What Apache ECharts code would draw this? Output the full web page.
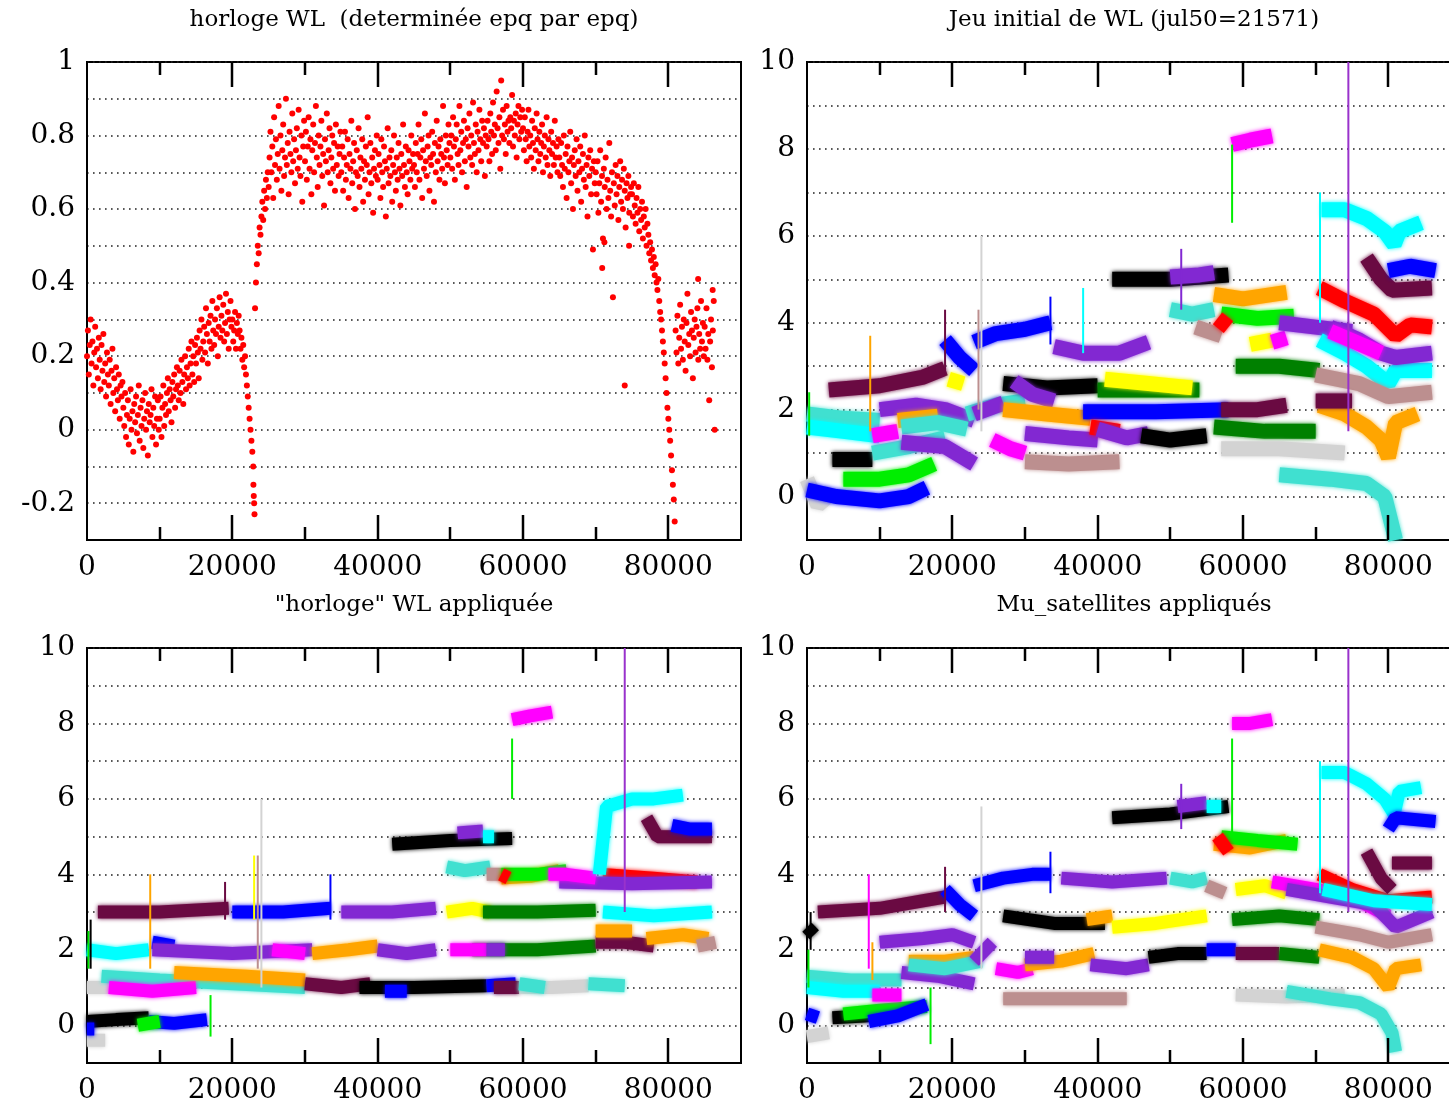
<!DOCTYPE html>
<html><head><meta charset="utf-8">
<script src="https://cdn.jsdelivr.net/npm/echarts/dist/echarts.min.js"></script>
<style>html,body{margin:0;padding:0;background:#fff}#c{width:1449px;height:1106px}</style>
</head><body><div id="c"></div>
<script>
// ---------- titles ----------
const titles = ['horloge WL  (determinée epq par epq)', 'Jeu initial de WL (jul50=21571)', '"horloge" WL appliquée', 'Mu_satellites appliqués'];

// ---------- panel 1 : WL clock, one value every clockStep seconds ----------
const clockStep = 125;
const clockY = [
 0.20,0.27,0.15,0.23,0.30,0.18,0.24,0.12,0.21,0.28,0.17,0.22,0.14,0.25,0.19,0.11,0.23,0.16,0.26,0.13,
 0.18,0.09,0.21,0.15,0.12,0.19,0.07,0.16,0.22,0.10,0.14,0.05,0.17,0.11,0.08,0.15,0.03,0.12,0.09,0.13,
 0.06,0.01,0.10,-0.02,0.04,0.08,-0.04,0.03,0.11,0.00,0.05,-0.06,0.07,0.02,0.09,-0.01,0.04,0.12,-0.03,0.06,
 0.01,0.08,-0.05,0.03,0.10,0.00,0.05,-0.07,0.07,0.02,0.04,0.11,-0.02,0.06,0.01,0.09,-0.04,0.03,0.08,0.00,
 0.03,0.09,-0.02,0.06,0.12,0.01,0.07,0.04,0.10,0.14,0.05,0.11,0.08,0.02,0.13,0.09,0.15,0.06,0.11,0.17,
 0.12,0.08,0.16,0.10,0.19,0.13,0.07,0.15,0.20,0.11,0.17,0.14,0.22,0.12,0.18,0.24,0.15,0.20,0.13,0.23,
 0.18,0.25,0.21,0.14,0.27,0.22,0.30,0.19,0.24,0.28,0.21,0.33,0.26,0.18,0.29,0.24,0.31,0.22,0.35,0.27,
 0.23,0.30,0.26,0.33,0.20,0.28,0.36,0.25,0.31,0.27,0.34,0.24,0.29,0.37,0.26,0.32,0.22,0.30,0.35,0.28,
 0.30,0.24,0.27,0.32,0.22,0.29,0.26,0.31,0.27,0.22,0.25,0.19,0.23,0.17,0.20,0.15,0.12,0.09,0.06,0.03,
 0.00,-0.03,-0.06,-0.10,-0.20,0.33,0.40,0.45,0.50,0.48,0.55,0.53,0.58,0.62,0.57,0.65,0.60,0.68,0.63,0.70,
 0.66,0.74,0.81,0.70,0.77,0.63,0.85,0.72,0.79,0.68,0.75,0.88,0.71,0.80,0.65,0.76,0.83,0.69,0.74,0.90,
 0.72,0.78,0.64,0.81,0.75,0.70,0.86,0.73,0.79,0.67,0.76,0.82,0.71,0.87,0.74,0.69,0.80,0.62,0.77,0.84,
 0.73,0.81,0.68,0.77,0.85,0.71,0.79,0.64,0.76,0.83,0.70,0.78,0.88,0.74,0.66,0.80,0.72,0.77,0.84,0.69,
 0.75,0.61,0.79,0.73,0.86,0.70,0.76,0.82,0.67,0.74,0.80,0.71,0.78,0.65,0.83,0.72,0.77,0.69,0.75,0.81,
 0.70,0.77,0.65,0.74,0.81,0.68,0.72,0.79,0.63,0.75,0.71,0.84,0.67,0.73,0.78,0.60,0.70,0.76,0.69,0.82,
 0.66,0.74,0.71,0.79,0.62,0.73,0.68,0.77,0.72,0.85,0.64,0.70,0.78,0.67,0.74,0.59,0.71,0.76,0.69,0.80,
 0.68,0.75,0.72,0.63,0.79,0.70,0.66,0.77,0.73,0.58,0.71,0.82,0.67,0.74,0.69,0.76,0.62,0.72,0.80,0.70,
 0.65,0.74,0.68,0.78,0.71,0.61,0.75,0.69,0.83,0.72,0.66,0.77,0.70,0.64,0.76,0.73,0.68,0.80,0.71,0.75,
 0.72,0.66,0.78,0.70,0.75,0.83,0.68,0.74,0.79,0.63,0.76,0.71,0.86,0.73,0.69,0.77,0.80,0.65,0.74,0.72,
 0.81,0.75,0.62,0.78,0.70,0.84,0.73,0.77,0.68,0.79,0.75,0.71,0.88,0.74,0.67,0.80,0.76,0.72,0.83,0.78,
 0.74,0.80,0.71,0.85,0.77,0.68,0.79,0.83,0.75,0.72,0.88,0.76,0.81,0.70,0.78,0.84,0.73,0.79,0.66,0.82,
 0.77,0.86,0.74,0.80,0.72,0.89,0.78,0.75,0.83,0.70,0.81,0.76,0.87,0.79,0.73,0.84,0.78,0.82,0.69,0.80,
 0.77,0.84,0.79,0.73,0.86,0.81,0.75,0.89,0.80,0.83,0.76,0.92,0.82,0.78,0.85,0.71,0.95,0.80,0.87,0.79,
 0.83,0.75,0.88,0.81,0.84,0.78,0.85,0.82,0.91,0.77,0.84,0.80,0.86,0.74,0.83,0.88,0.79,0.85,0.81,0.87,
 0.82,0.76,0.85,0.79,0.73,0.81,0.87,0.77,0.80,0.74,0.84,0.78,0.71,0.82,0.76,0.86,0.79,0.73,0.81,0.75,
 0.78,0.83,0.70,0.77,0.80,0.74,0.85,0.72,0.79,0.76,0.69,0.81,0.75,0.78,0.72,0.84,0.74,0.77,0.70,0.79,
 0.74,0.69,0.78,0.72,0.66,0.80,0.71,0.75,0.63,0.77,0.70,0.73,0.81,0.67,0.74,0.60,0.72,0.76,0.69,0.79,
 0.65,0.73,0.70,0.77,0.62,0.71,0.75,0.68,0.80,0.66,0.72,0.58,0.74,0.69,0.76,0.64,0.71,0.49,0.73,0.67,
 0.70,0.64,0.73,0.59,0.67,0.76,0.62,0.69,0.52,0.71,0.66,0.74,0.60,0.68,0.63,0.78,0.65,0.58,0.70,0.36,
 0.67,0.61,0.72,0.64,0.69,0.57,0.66,0.73,0.62,0.68,0.60,0.71,0.65,0.55,0.67,0.63,0.69,0.59,0.64,0.66,
 0.64,0.58,0.67,0.61,0.56,0.63,0.59,0.66,0.54,0.60,0.57,0.62,0.52,0.58,0.55,0.60,0.50,0.56,0.53,0.48,
 0.51,0.46,0.49,0.44,0.47,0.42,0.45,0.40,0.38,0.41,0.35,0.32,0.30,0.27,0.24,0.21,0.18,0.14,0.10,0.06,
 0.03,0.00,-0.03,-0.07,-0.11,-0.15,-0.19,-0.25,0.27,0.21,0.31,0.18,0.25,0.34,0.22,0.28,0.19,0.30,0.24,0.16,
 0.29,0.37,0.23,0.26,0.20,0.32,0.27,0.14,0.25,0.30,0.21,0.28,0.33,0.19,0.26,0.22,0.35,0.24,0.29,0.20,
 0.28,0.22,0.33,0.19,0.26,0.08,0.24,0.30,0.17,0.27,0.35,0.00
];
const clockOutliers = [[22900,-0.15],[22950,-0.18],[23050,-0.23],[70900,0.44],[71200,0.51],[74000,0.12],[74600,0.50],[84100,0.41],[86100,0.38]];

// ---------- satellites (index into satColors) ----------
// bands: [satellite, [[epoch, WL], ...]]   spikes: [satellite, epoch, WLlow, WLhigh]
const trBands = [
 [13,[[0,0.4],[1500,-0.2],[3500,0.1]]],
 [2,[[0,0.15],[4000,0.0],[10000,-0.1],[14000,0.0],[16500,0.2]]],
 [1,[[5000,0.4],[10000,0.4],[14000,0.5],[17500,0.75]]],
 [6,[[3500,0.85],[9000,0.85]]],
 [9,[[0,1.9],[5000,1.8],[10000,1.75]]],
 [4,[[0,1.6],[5000,1.5],[10000,1.4]]],
 [9,[[9000,1.0],[14000,1.15],[19000,1.35]]],
 [3,[[9000,1.4],[12500,1.5]]],
 [5,[[3000,2.45],[10000,2.55],[16000,2.75],[19000,2.95]]],
 [8,[[10000,2.0],[15000,2.1],[19000,2.0],[23000,1.75]]],
 [7,[[12500,1.75],[18000,1.85]]],
 [9,[[13000,1.6],[18000,1.7],[22000,1.55]]],
 [8,[[13000,1.25],[19000,1.15],[23000,0.75]]],
 [2,[[19000,3.6],[21000,3.2],[23000,2.9]]],
 [11,[[19500,2.7],[21500,2.6]]],
 [2,[[23000,3.55],[26000,3.75],[30000,3.85],[33500,4.0]]],
 [9,[[22000,1.9],[26000,2.1],[30000,2.2]]],
 [8,[[23000,1.9],[27000,2.15]]],
 [6,[[27000,2.6],[33000,2.5],[40000,2.55]]],
 [8,[[28500,2.65],[31000,2.35],[34000,2.2]]],
 [3,[[25500,1.3],[28000,1.1],[30000,1.0]]],
 [7,[[27000,2.0],[33000,1.9],[39000,1.8]]],
 [8,[[30000,1.45],[36000,1.35],[40000,1.3]]],
 [10,[[30000,0.8],[36000,0.75],[43000,0.8]]],
 [8,[[34000,3.45],[38000,3.3],[43000,3.3],[47000,3.55]]],
 [12,[[40000,2.45],[46000,2.45],[54000,2.45]]],
 [11,[[41000,2.7],[47000,2.6],[53000,2.5]]],
 [2,[[38000,1.95],[48000,1.95],[58000,2.0]]],
 [0,[[39000,1.6],[43000,1.5]]],
 [8,[[40000,1.55],[44000,1.35],[47000,1.45]]],
 [6,[[46000,1.4],[50000,1.3],[55000,1.4]]],
 [6,[[42000,5.0],[50000,5.0],[58000,5.1]]],
 [8,[[50000,5.05],[54000,5.1],[56000,5.15]]],
 [9,[[50000,4.3],[53000,4.2],[56000,4.3]]],
 [10,[[53500,3.9],[57000,3.7]]],
 [7,[[56000,4.65],[60000,4.55],[66000,4.7]]],
 [1,[[57000,4.2],[62000,4.1],[67000,4.15]]],
 [0,[[56500,4.1],[58000,3.9]]],
 [11,[[61000,3.5],[64000,3.6]]],
 [3,[[64000,3.55],[66000,3.65]]],
 [12,[[59000,3.0],[65000,3.0],[70500,2.9]]],
 [5,[[57000,2.0],[62000,2.0],[66000,2.1]]],
 [12,[[56000,1.6],[63000,1.5],[70000,1.5]]],
 [13,[[57000,1.1],[65000,1.1],[74000,1.0]]],
 [9,[[65000,0.5],[72000,0.4],[77000,0.3],[79500,0.0],[81000,-1.0]]],
 [8,[[65000,4.0],[70000,3.9],[75000,3.8]]],
 [0,[[70500,4.8],[74000,4.5],[78000,4.2],[81000,3.7],[83000,3.95],[86000,3.9]]],
 [4,[[70800,6.6],[74000,6.6],[77000,6.4],[79500,6.1],[80800,5.8],[81500,6.1],[84500,6.3]]],
 [4,[[70500,3.6],[74000,3.3],[77000,3.0],[80000,2.6],[81000,2.9],[86000,2.9]]],
 [7,[[70500,2.1],[74000,1.9],[77000,1.6],[79000,1.3],[80000,0.9],[81000,1.7],[84000,1.9]]],
 [10,[[70000,2.8],[76000,2.6],[80000,2.3],[86000,2.4]]],
 [5,[[70000,2.2],[75000,2.2]]],
 [8,[[72000,3.9],[76000,3.6],[79000,3.3],[81000,3.2],[86000,3.3]]],
 [3,[[72000,3.8],[79000,3.3]]],
 [5,[[77000,5.5],[79000,5.0],[80500,4.75],[86000,4.8]]],
 [2,[[80000,5.2],[83000,5.3],[86500,5.2]]],
 [3,[[58500,8.1],[61000,8.2],[64000,8.3]]]
];
const trSpikes = [[13,24000,1.5,6.0],[10,23600,2.0,4.3],[7,8700,1.5,3.7],[5,19000,2.8,4.3],[2,33500,3.5,4.6],[1,58500,6.3,8.1],[4,70600,4.0,7.0],[4,38000,3.3,4.8],[8,51500,4.3,5.7],[1,300,1.4,2.4],[14,74500,1.5,10]];

const blBands = [
 [13,[[0,1.0],[3000,1.0]]],
 [13,[[0,-0.4],[2500,-0.4]]],
 [6,[[0,0.1],[4000,0.15],[8500,0.2]]],
 [2,[[0,-0.1],[1000,-0.1]]],
 [2,[[8500,0.1],[12000,0.05],[16500,0.15]]],
 [1,[[7000,0.0],[10000,0.1]]],
 [4,[[0,2.0],[4000,1.9],[8500,2.0]]],
 [9,[[2000,1.3],[10000,1.2],[20000,1.1],[30000,1.0]]],
 [3,[[3000,1.0],[9000,0.9],[15000,1.0]]],
 [7,[[12000,1.4],[22000,1.3],[30000,1.2]]],
 [5,[[1500,3.0],[10000,3.0],[19500,3.1]]],
 [2,[[20000,3.0],[27000,3.0],[33500,3.1]]],
 [2,[[9000,2.2],[12000,2.1]]],
 [8,[[9000,2.0],[20000,1.9],[31000,2.0]]],
 [3,[[25500,2.0],[30000,1.9]]],
 [7,[[31000,1.9],[36000,2.0],[40000,2.1]]],
 [8,[[35000,3.0],[42000,3.0],[48000,3.1]]],
 [8,[[40000,2.0],[44000,1.9],[48000,2.0]]],
 [5,[[30000,1.1],[35000,1.0],[39000,1.1]]],
 [6,[[37500,1.0],[45000,1.0],[55000,1.05]]],
 [2,[[41000,0.9],[44000,0.9]]],
 [2,[[55000,1.05],[59000,1.1]]],
 [6,[[42000,4.8],[50000,4.9],[58500,4.95]]],
 [8,[[51000,5.1],[54500,5.15]]],
 [4,[[54500,5.0],[56000,5.0]]],
 [9,[[49500,4.2],[52000,4.1],[55500,4.2]]],
 [10,[[55000,4.0],[57000,4.0]]],
 [7,[[57000,3.9],[61000,3.95],[65000,4.1]]],
 [1,[[57000,4.0],[62000,4.0],[66000,4.1]]],
 [0,[[57000,4.0],[58000,3.9]]],
 [11,[[49500,3.0],[53000,3.1],[55500,3.0]]],
 [12,[[54500,3.0],[62000,3.0],[70000,3.05]]],
 [12,[[53000,2.0],[62000,2.0],[70000,2.1]]],
 [3,[[50000,2.0],[55000,2.0]]],
 [8,[[55000,2.0],[57500,2.0]]],
 [5,[[56000,1.0],[59500,1.0]]],
 [13,[[59500,1.0],[64000,1.0],[69000,1.05]]],
 [9,[[59500,1.1],[63000,1.0]]],
 [9,[[69000,1.1],[74000,1.05]]],
 [5,[[70000,2.2],[74000,2.2],[78000,2.1]]],
 [7,[[70000,2.5],[75000,2.5]]],
 [7,[[77000,2.3],[82000,2.4],[85500,2.3]]],
 [10,[[84000,2.1],[86500,2.2]]],
 [4,[[71000,3.0],[78000,2.9],[86000,3.0]]],
 [0,[[71000,4.0],[78000,3.9],[84000,3.8]]],
 [8,[[65000,3.8],[75000,3.75],[86000,3.8]]],
 [3,[[63500,4.0],[66000,4.0],[70000,3.9]]],
 [4,[[70500,4.0],[71500,5.8],[75000,6.0],[78000,6.0],[82000,6.1]]],
 [5,[[77000,5.5],[78500,5.0],[81000,5.0],[86000,5.0]]],
 [2,[[80500,5.3],[83000,5.2],[86000,5.2]]],
 [3,[[58500,8.1],[61000,8.2],[64000,8.3]]]
];
const blSpikes = [[1,17000,-0.3,0.8],[13,24000,1.0,6.0],[10,23500,1.5,4.5],[11,23000,2.8,4.5],[7,8700,1.5,4.0],[5,19000,2.8,3.8],[2,33500,2.8,4.0],[1,58500,6.0,7.6],[1,200,1.5,2.5],[6,500,1.5,2.8],[14,74000,3.0,10]];

const brBands = [
 [13,[[0,-0.3],[3000,-0.2]]],
 [2,[[0,0.3],[1500,0.2]]],
 [6,[[3500,0.2],[8500,0.25]]],
 [1,[[5000,0.3],[10000,0.4],[16500,0.5]]],
 [2,[[8500,0.1],[12500,0.25],[16500,0.55]]],
 [9,[[0,1.3],[6000,1.2],[13000,1.2]]],
 [4,[[0,1.0],[5000,0.9],[10000,0.9]]],
 [3,[[9000,0.8],[13000,0.8]]],
 [5,[[1500,3.0],[10000,3.1],[16000,3.3],[19000,3.4]]],
 [6,[[0,2.6],[1000,2.4]]],
 [8,[[10000,2.2],[16000,2.3],[20000,2.4],[23000,2.2]]],
 [2,[[19000,3.6],[21000,3.2],[23000,2.9]]],
 [2,[[23000,3.7],[27000,3.9],[31000,4.0],[33500,4.0]]],
 [7,[[14000,1.7],[19000,1.7],[23000,1.8]]],
 [8,[[13000,1.4],[18000,1.3],[23000,1.1]]],
 [9,[[14000,1.6],[19000,1.5],[24000,1.7]]],
 [8,[[23000,1.7],[25500,2.2]]],
 [6,[[27000,2.9],[34000,2.7],[41000,2.7]]],
 [3,[[26000,1.5],[29000,1.4],[31000,1.5]]],
 [10,[[27000,0.7],[35000,0.7],[44000,0.7]]],
 [7,[[30000,1.6],[35000,1.7],[39500,1.9]]],
 [8,[[30000,1.8],[34000,1.8]]],
 [8,[[39000,1.6],[44000,1.5],[47000,1.6]]],
 [8,[[35000,3.9],[42000,3.8],[49500,3.9]]],
 [7,[[38500,2.8],[42000,2.9]]],
 [11,[[42000,2.6],[48000,2.7],[55000,2.9]]],
 [6,[[47000,1.8],[51000,1.9],[55000,1.9]]],
 [2,[[55000,2.0],[59000,2.0]]],
 [6,[[42000,5.5],[50000,5.6],[58000,5.8]]],
 [8,[[51000,5.8],[55000,5.9]]],
 [4,[[55000,5.8],[57000,5.8]]],
 [9,[[50000,3.9],[53000,3.8],[55000,3.9]]],
 [10,[[55000,3.7],[57500,3.5]]],
 [7,[[56000,4.8],[61000,4.7],[66000,4.9]]],
 [1,[[57000,5.0],[62000,4.9],[67500,4.8]]],
 [0,[[56500,5.0],[58000,4.6]]],
 [11,[[59000,3.6],[63000,3.7],[66000,3.5]]],
 [12,[[58500,2.8],[65000,2.9],[70500,2.8]]],
 [5,[[59000,1.9],[65000,1.9]]],
 [12,[[65000,1.9],[70500,1.8]]],
 [13,[[59000,0.8],[66000,0.75],[74000,0.8]]],
 [9,[[66000,0.9],[72000,0.7],[76000,0.6],[79000,0.3],[80500,-0.2],[81000,-0.7]]],
 [3,[[64000,3.8],[70000,3.6],[75000,3.4],[80000,2.9]]],
 [8,[[66000,3.6],[72000,3.4],[78000,3.2],[81000,2.6],[86000,3.0]]],
 [0,[[70500,4.0],[75000,3.6],[80000,3.3],[86000,3.4]]],
 [7,[[70500,2.0],[75000,1.8],[78000,1.5],[80000,1.0],[81000,1.5],[84500,1.6]]],
 [10,[[70000,2.6],[76000,2.4],[80000,2.2],[86000,2.4]]],
 [4,[[70800,6.7],[74000,6.7],[77000,6.4],[79500,6.0],[80800,5.6],[81500,6.2],[84500,6.3]]],
 [4,[[71000,3.6],[78000,3.3],[86000,3.2]]],
 [5,[[77000,4.6],[79000,3.9],[80500,3.6]]],
 [5,[[80500,4.3],[86000,4.3]]],
 [2,[[80000,5.2],[81000,5.5],[86500,5.4]]],
 [3,[[58500,8.0],[61000,8.0],[64000,8.1]]]
];
const brSpikes = [[1,17000,-0.5,1.0],[13,24000,1.5,5.8],[3,8500,1.5,4.0],[7,9000,1.2,2.2],[5,19000,3.0,4.2],[2,33500,3.5,4.6],[1,58500,5.0,7.6],[4,70600,3.5,7.0],[8,51500,5.2,6.4],[1,200,1.0,2.0],[6,500,2.0,3.0],[14,74500,3.0,10]];

// ---------- styling ----------
const satColors = ['#ff0000','#00ee00','#0000ff','#ff00ff','#00ffff','#6a0a42','#000000','#ffa500','#8228d2','#40e0d0','#bc8f8f','#ffff00','#008000','#d3d3d3','#9932cc'];
const FONT = 'DejaVu Serif';
const grids = [
 {left:87, top:62, width:654, height:478},
 {left:807, top:62, width:654, height:478},
 {left:87, top:648, width:654, height:415},
 {left:807, top:648, width:654, height:415}
];
const X_MAX = 90000, X_MAJOR = 20000, X_MINOR = 10000;
const yRanges = [{min:-0.3,max:1,interval:0.1},{min:-1,max:10,interval:1},{min:-1,max:10,interval:1},{min:-1,max:10,interval:1}];

const xAxes = [], yAxes = [];
grids.forEach((g, gi) => {
  xAxes.push({gridIndex:gi, type:'value', min:0, max:X_MAX, interval:X_MAJOR, position:'bottom',
    splitLine:{show:false}, axisLine:{show:true, onZero:false, lineStyle:{color:'#000', width:2}},
    axisTick:{show:false},
    axisLabel:{show:true, fontFamily:FONT, fontSize:28, color:'#000', margin:14, formatter: v => v >= X_MAX ? '' : String(v)}});
  const r = yRanges[gi];
  yAxes.push({gridIndex:gi, type:'value', min:r.min, max:r.max, interval:r.interval,
    axisLine:{show:true, onZero:false, lineStyle:{color:'#000', width:2}}, axisTick:{show:false},
    axisLabel:{fontFamily:FONT, fontSize:28, color:'#000', margin:12,
      formatter: v => { const k = Math.round(v / r.interval); if (gi === 0) { return (k % 2 === 0) ? String(Math.round(v*10)/10) : ''; } return (k % 2 === 0 && k >= 0) ? String(k) : ''; }},
    splitLine:{show:true, lineStyle:{color:'#222', width:1.6, type:[1.6,4.4]}}});
});

const series = [];
const clockPts = clockY.map((y, i) => [i * clockStep, y]).concat(clockOutliers);
series.push({type:'scatter', xAxisIndex:0, yAxisIndex:0, data:clockPts, symbol:'circle', symbolSize:6,
  itemStyle:{color:'#ff0000', opacity:1}, silent:true, animation:false});

function addPanel(gi, bands, spikes, bandWidth) {
  bands.forEach(([sat, pts]) => series.push({type:'line', xAxisIndex:gi, yAxisIndex:gi, data:pts, symbol:'none',
    lineStyle:{color:satColors[sat], width:bandWidth, join:'bevel', shadowBlur:4, shadowColor:satColors[sat]}, silent:true, animation:false}));
  spikes.forEach(([sat, x, y0, y1]) => series.push({type:'line', xAxisIndex:gi, yAxisIndex:gi, data:[[x,y0],[x,y1]], symbol:'none',
    lineStyle:{color:satColors[sat], width:2}, silent:true, animation:false}));
}
addPanel(1, trBands, trSpikes, 15);
addPanel(2, blBands, blSpikes, 13);
addPanel(3, brBands, brSpikes, 13);

const titlePos = [[414,20],[1134,20],[414,605],[1134,605]];
const titleEls = titles.map((t, i) => ({type:'text', x:titlePos[i][0], y:titlePos[i][1], silent:true,
  style:{text:t, font:'23px "' + FONT + '"', fill:'#000', textAlign:'center', textVerticalAlign:'middle'}}));

const chart = echarts.init(document.getElementById('c'));
chart.setOption({
  animation:false, backgroundColor:'#fff',
  grid: grids.map(g => Object.assign({show:true, borderColor:'#000', borderWidth:2, outerBoundsMode:'none'}, g)),
  xAxis: xAxes, yAxis: yAxes, series: series, graphic: titleEls
});

// gnuplot-style mirrored inward ticks (major long, minor short) placed through the axis scale
const tickEls = [];
grids.forEach((g, gi) => {
  for (let v = X_MINOR; v < X_MAX; v += X_MINOR) {
    let p = null;
    try { p = chart.convertToPixel({gridIndex: gi}, [v, yRanges[gi].min]); } catch (e) { p = null; }
    const px = (Array.isArray(p) && isFinite(p[0])) ? Math.round(p[0]) : Math.round(g.left + v / X_MAX * g.width);
    const len = (v % X_MAJOR === 0) ? 25 : 13;
    const yb = g.top + g.height, yt = g.top;
    tickEls.push({type:'line', silent:true, z:100, shape:{x1:px, y1:yb, x2:px, y2:yb - len}, style:{stroke:'#000', lineWidth:2.5}});
    tickEls.push({type:'line', silent:true, z:100, shape:{x1:px, y1:yt, x2:px, y2:yt + len}, style:{stroke:'#000', lineWidth:2.5}});
  }
});
chart.setOption({graphic: titleEls.concat(tickEls)});
</script></body></html>
